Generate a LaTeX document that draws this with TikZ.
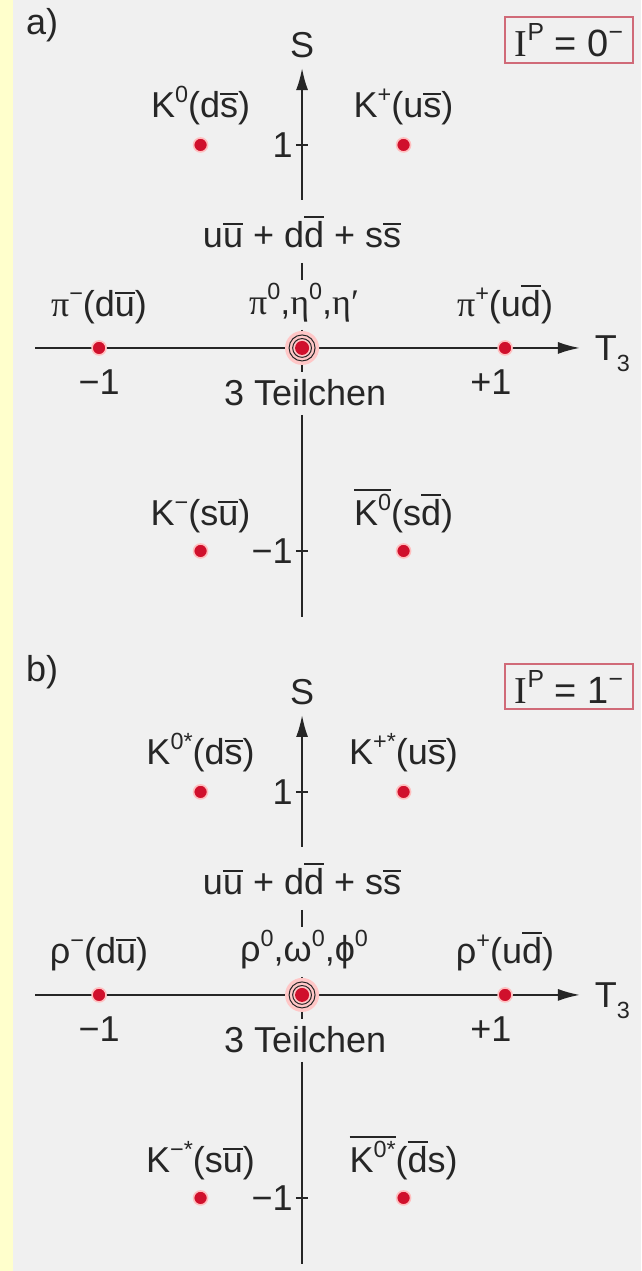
\documentclass[tikz,border=0pt]{standalone}
\usepackage{graphicx}
\usepackage{fontspec}
\setmainfont{Liberation Sans}
\newfontfamily\serifgr{Liberation Serif}
\usetikzlibrary{arrows.meta,positioning}
\definecolor{bggray}{HTML}{F0F0F0}
\definecolor{strip}{HTML}{FFFFCC}
\definecolor{dotred}{HTML}{D0102C}
\definecolor{ink}{HTML}{262626}
\definecolor{boxred}{HTML}{D06A78}
% quark bar, superscript, subscript
\newcommand{\qb}[1]{\leavevmode\vbox{\hrule height 0.8pt\kern1.6pt\hbox{#1}}}
\newcommand{\hoch}[1]{\raisebox{0.42em}{\scalebox{0.65}{#1}}}
\newcommand{\tief}[1]{\raisebox{-0.3em}{\scalebox{0.65}{#1}}}
\tikzset{meson/.style={circle,fill=dotred,draw=red!25,line width=0.8pt,minimum size=7pt,inner sep=0pt},
    centre/.style={circle,fill=dotred,minimum size=7pt,inner sep=0pt},
    tag/.style={font=\fontsize{18}{21}\selectfont,text=ink,inner sep=1pt},
    axis/.style={draw=ink,line width=1pt},
    arr/.style={axis,-{Latex[length=11pt,width=6pt]}},
    ipbox/.style={draw=boxred,line width=1pt,font=\fontsize{19}{22}\selectfont,text=ink,
        inner xsep=5pt,inner ysep=3pt}}

\begin{document}
\begin{tikzpicture}[x=101.5pt,y=101.5pt]
    \fill[bggray] (-1.488,1.714) rectangle (1.670,-4.547);
    \fill[strip] (-1.488,1.714) rectangle (-1.424,-4.547);
    \useasboundingbox (-1.488,1.714) rectangle (1.670,-4.547);

    % a) pseudoscalar nonet
    \begin{scope}
        \coordinate (a-left) at (-1.315,0); \coordinate (a-right) at (1.369,0);
        \coordinate (a-top) at (0,1.379); \coordinate (a-up) at (0,0.729);
        \coordinate (a-t1) at (0,0.419); \coordinate (a-t2) at (0,0.335);
        \coordinate (a-c1) at (0,0.089); \coordinate (a-c2) at (0,-0.118);
        \coordinate (a-lo) at (0,-0.330); \coordinate (a-bot) at (0,-1.325);
        \draw[arr] (a-left) -- (a-right);
        \draw[arr] (a-up) -- (a-top);
        \draw[axis] (a-t1) -- (a-t2);
        \draw[axis] (a-c1) -- (a-c2);
        \draw[axis] (a-lo) -- (a-bot);
        \draw[axis] (-0.03,1) -- (0.03,1) (-0.03,-1) -- (0.03,-1);

        \node[tag] (a-name) at (-1.281,1.591) {a)};
        \node[tag] (a-S) at (0,1.493) {S};
        \node[tag,anchor=west] (a-T3) at (1.43,-0.03) {T\tief{3}};
        \node[tag,anchor=east] (a-one) at (-0.035,1) {1};
        \node[tag,anchor=east] (a-mone) at (-0.035,-1) {−1};
        \node[tag] (a-xm) at (-1.0,-0.17) {−1};
        \node[tag] (a-xp) at (0.93,-0.17) {+1};
        \node[ipbox,anchor=east] (a-ip) at (1.635,1.517) {{\serifgr I}\hoch{P} = 0\hoch{−}};

        \foreach \pos/\name in {(-0.5,1)/a-K0, (0.5,1)/a-Kp, (-1,0)/a-pim, (1,0)/a-pip, (-0.5,-1)/a-Km, (0.5,-1)/a-K0b}
            \node[meson] (\name) at \pos {};
        \fill[red!22] (0,0) circle (8.5pt);
        \draw[ink,line width=0.5pt] (0,0) circle (6.5pt) (0,0) circle (4.7pt);
        \node[centre] (a-mid) at (0,0) {};

        \node[tag,above=5pt of a-K0] (a-K0-t) {K\hoch{0}(d\qb{s})};
        \node[tag,above=5pt of a-Kp] (a-Kp-t) {K\hoch{+}(u\qb{s})};
        \node[tag,above=7pt of a-pim] (a-pim-t) {{\serifgr π}\hoch{−}(d\qb{u})};
        \node[tag,above=7pt of a-pip] (a-pip-t) {{\serifgr π}\hoch{+}(u\qb{d})};
        \node[tag,above=8pt of a-mid,xshift=1pt] (a-mid-t) {{\serifgr π}\hoch{0},{\serifgr η}\hoch{0},{\serifgr η′}};
        \node[tag,above=4pt of a-Km] (a-Km-t) {K\hoch{−}(s\qb{u})};
        \node[tag,above=4pt of a-K0b] (a-K0b-t) {\qb{K\hoch{0}}(s\qb{d})};
        \node[tag] (a-sum) at (0,0.571) {u\qb{u} + d\qb{d} + s\qb{s}};
        \node[tag] (a-three) at (0.015,-0.222) {3 Teilchen};
    \end{scope}

    % b) vector nonet
    \begin{scope}[yshift=-3.187*101.5pt]
        \coordinate (b-left) at (-1.315,0); \coordinate (b-right) at (1.369,0);
        \coordinate (b-top) at (0,1.379); \coordinate (b-up) at (0,0.729);
        \coordinate (b-t1) at (0,0.419); \coordinate (b-t2) at (0,0.335);
        \coordinate (b-c1) at (0,0.089); \coordinate (b-c2) at (0,-0.118);
        \coordinate (b-lo) at (0,-0.330); \coordinate (b-bot) at (0,-1.325);
        \draw[arr] (b-left) -- (b-right);
        \draw[arr] (b-up) -- (b-top);
        \draw[axis] (b-t1) -- (b-t2);
        \draw[axis] (b-c1) -- (b-c2);
        \draw[axis] (b-lo) -- (b-bot);
        \draw[axis] (-0.03,1) -- (0.03,1) (-0.03,-1) -- (0.03,-1);

        \node[tag] (b-name) at (-1.281,1.591) {b)};
        \node[tag] (b-S) at (0,1.493) {S};
        \node[tag,anchor=west] (b-T3) at (1.43,-0.03) {T\tief{3}};
        \node[tag,anchor=east] (b-one) at (-0.035,1) {1};
        \node[tag,anchor=east] (b-mone) at (-0.035,-1) {−1};
        \node[tag] (b-xm) at (-1.0,-0.17) {−1};
        \node[tag] (b-xp) at (0.93,-0.17) {+1};
        \node[ipbox,anchor=east] (b-ip) at (1.635,1.517) {{\serifgr I}\hoch{P} = 1\hoch{−}};

        \foreach \pos/\name in {(-0.5,1)/b-K0, (0.5,1)/b-Kp, (-1,0)/b-rhom, (1,0)/b-rhop, (-0.5,-1)/b-Km, (0.5,-1)/b-K0b}
            \node[meson] (\name) at \pos {};
        \fill[red!22] (0,0) circle (8.5pt);
        \draw[ink,line width=0.5pt] (0,0) circle (6.5pt) (0,0) circle (4.7pt);
        \node[centre] (b-mid) at (0,0) {};

        \node[tag,above=5pt of b-K0] (b-K0-t) {K\hoch{0*}(d\qb{s})};
        \node[tag,above=5pt of b-Kp] (b-Kp-t) {K\hoch{+*}(u\qb{s})};
        \node[tag,above=7pt of b-rhom] (b-rhom-t) {ρ\hoch{−}(d\qb{u})};
        \node[tag,above=7pt of b-rhop] (b-rhop-t) {ρ\hoch{+}(u\qb{d})};
        \node[tag,above=8pt of b-mid,xshift=1pt] (b-mid-t) {ρ\hoch{0},ω\hoch{0},ϕ\hoch{0}};
        \node[tag,above=4pt of b-Km] (b-Km-t) {K\hoch{−*}(s\qb{u})};
        \node[tag,above=4pt of b-K0b] (b-K0b-t) {\qb{K\hoch{0*}}(\qb{d}s)};
        \node[tag] (b-sum) at (0,0.571) {u\qb{u} + d\qb{d} + s\qb{s}};
        \node[tag] (b-three) at (0.015,-0.222) {3 Teilchen};
    \end{scope}
\end{tikzpicture}
\end{document}
